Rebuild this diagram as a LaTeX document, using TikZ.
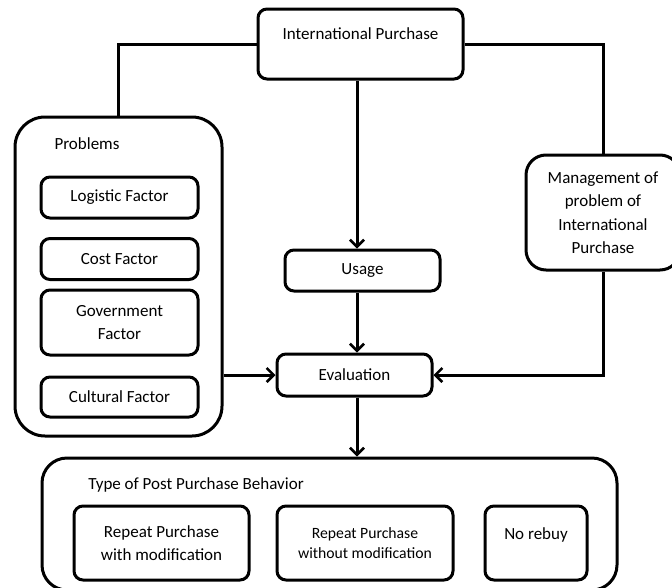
\documentclass[tikz,border=0pt]{standalone}
\usepackage{fontspec}
\setmainfont{Carlito}
\usetikzlibrary{arrows.meta}

\tikzstyle{box}=[draw,line width=3pt,rounded corners=9pt,align=center,inner sep=0pt,font=\fontsize{17}{23.5}\selectfont]
\tikzstyle{group}=[draw,line width=3pt,rounded corners=30pt,inner sep=0pt]
\tikzstyle{title}=[inner sep=0pt,font=\fontsize{17}{20}\selectfont]
\tikzstyle{link}=[line width=3pt]
\tikzstyle{arr}=[line width=3pt,-{Straight Barb[length=7pt,width=14pt,line width=2.6pt]}]

\begin{document}
\begin{tikzpicture}[x=1pt,y=-1pt]
  \useasboundingbox (0,0) rectangle (672,587);

  \node (ip)[box,minimum width=205pt,text height=30pt,text depth=40pt] at (360.5,44) {International Purchase};

  % problems
  \node (problems)[group,minimum width=207pt,minimum height=319pt] at (118.5,276.5) {};
  \node (problemstitle)[title] at (87,144) {Problems};
  \node (logistic)[box,minimum width=157pt,minimum height=41pt] at (119.5,197.5) {Logistic Factor};
  \node (cost)[box,minimum width=157pt,minimum height=41pt] at (119.5,259) {Cost Factor};
  \node (govt)[box,minimum width=157pt,minimum height=65pt] at (119.5,322.5) {Government\\Factor};
  \node (cultural)[box,minimum width=157pt,minimum height=40pt] at (119.5,397) {Cultural Factor};

  \node (usage)[box,minimum width=155pt,minimum height=41pt] at (362.5,270.5) {Usage};
  \node (eval)[box,minimum width=155pt,minimum height=42pt] at (354.5,375) {Evaluation};
  \node (mgmt)[box,rounded corners=20pt,minimum width=154pt,minimum height=115pt] at (603,212.5) {Management of\\problem of\\International\\Purchase};

  % post purchase
  \node (type)[group,rounded corners=25pt,minimum width=575pt,minimum height=132pt] at (329.5,524) {};
  \node (typetitle)[title] at (196,485) {Type of Post Purchase Behavior};
  \node (rp1)[box,minimum width=175pt,minimum height=74pt] at (161.5,543) {Repeat Purchase\\with modification};
  \node (rp2)[box,minimum width=176pt,minimum height=74pt,font=\fontsize{15.7}{20.5}\selectfont] at (365,543) {Repeat Purchase\\without modification};
  \node (norebuy)[box,minimum width=102pt,text height=33pt,text depth=41pt] at (536,543) {No rebuy};

  \coordinate (spine) at (357,0);

  \draw[link] (ip.west) -| (problems.north);
  \draw[link] (ip.east) -| (mgmt.north);
  \draw[arr] (ip.south -| spine) -- (usage.north -| spine);
  \draw[arr] (usage.south -| spine) -- (eval.north -| spine);
  \draw[arr] (problems.east |- eval.west) -- (eval.west);
  \draw[arr] (mgmt.south) |- (eval.east);
  \draw[arr] (eval.south -| spine) -- (type.north -| spine);
\end{tikzpicture}
\end{document}
